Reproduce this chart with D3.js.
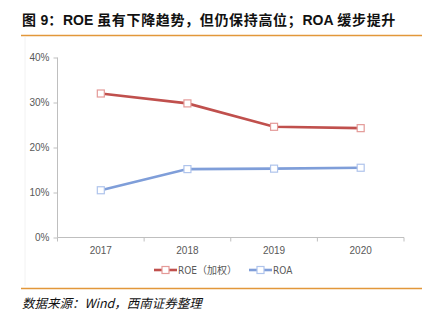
<!DOCTYPE html>
<html><head><meta charset="utf-8">
<script src="https://cdn.jsdelivr.net/npm/d3@7"></script>
<style>
html,body{margin:0;padding:0;background:#fff;}
svg{display:block;}
</style></head>
<body>
<svg id="c" width="433" height="327"></svg>
<script>
const years = ["2017","2018","2019","2020"];
const roe = [0.320, 0.298, 0.246, 0.243];
const roa = [0.105, 0.152, 0.153, 0.155];
const yTicks = [0, 0.1, 0.2, 0.3, 0.4];
const seriesNames = ["ROE（加权）","ROA"];
const titleParts = [["图 ",1],["9",0],["：",1],["ROE",0],[" 虽有下降趋势，但仍保持高位；",1],["ROA",0],[" 缓步提升",1]];
const colors = ["#C0504D","#7F9ED9"];
const markerStroke = ["#E49A98","#AFC4EC"];

const svg = d3.select("#c");
const fontLat = "'Liberation Sans', Arial, sans-serif";
const fontCJK = "'Noto Sans CJK SC', sans-serif";

// title
const title = svg.append("text").attr("x",22).attr("y",25)
  .attr("font-weight","bold").attr("font-size",14).attr("fill","#111");
const tsp = title.selectAll("tspan").data(titleParts).enter().append("tspan")
  .attr("font-family",d=>d[1]?fontCJK:"'Liberation Sans', sans-serif")
  .text(d=>d[0]);
// spread CJK glyphs so the title spans the same width as the reference
const w0 = title.node().getComputedTextLength();
const nCJK = titleParts.filter(d=>d[1]).reduce((a,d)=>a+d[0].length,0);
const ls = Math.max(0,(374 - w0)/nCJK);
tsp.attr("letter-spacing",d=>d[1]?ls:0);

svg.append("line").attr("x1",21).attr("x2",422).attr("y1",35.5).attr("y2",35.5)
  .attr("stroke","#E2973A").attr("stroke-width",1.3);

// faint chart border
svg.append("line").attr("x1",25).attr("x2",25).attr("y1",37).attr("y2",286)
  .attr("stroke","#f2f2f2").attr("stroke-width",1);

const x = d3.scaleBand().domain(years).range([57.5,404]);
const y = d3.scaleLinear().domain([0,0.4]).range([237.5,57.5]);

// y axis
const yAxis = d3.axisLeft(y).tickValues(yTicks).tickFormat(d3.format(".0%")).tickSize(4).tickPadding(4);
const gy = svg.append("g").attr("transform","translate(57.5,0)").call(yAxis);
gy.select(".domain").attr("stroke","#bfbfbf").attr("d","M0,57.5V237.5");
gy.selectAll(".tick line").attr("stroke","#bfbfbf");
gy.selectAll("text").attr("font-family",fontLat).attr("font-size",10).attr("fill","#595959");

// x axis
const xAxis = d3.axisBottom(x).tickSize(0).tickPadding(9);
const gx = svg.append("g").attr("transform","translate(0,237.5)").call(xAxis);
gx.select(".domain").attr("stroke","#bfbfbf").attr("d","M57.5,0H404");
gx.selectAll("text").attr("font-family",fontLat).attr("font-size",10).attr("fill","#595959");
// boundary ticks
const bounds = years.map(d=>x(d)).concat([x.range()[1]]);
gx.selectAll(".bt").data(bounds).enter().append("line")
  .attr("x1",d=>d).attr("x2",d=>d).attr("y1",0).attr("y2",4).attr("stroke","#bfbfbf");

const cx = d => x(d) + x.bandwidth()/2;
const line = d3.line().x((d,i)=>cx(years[i])).y(d=>y(d));

[roe, roa].forEach((s,k)=>{
  svg.append("path").datum(s).attr("d",line).attr("fill","none")
    .attr("stroke",colors[k]).attr("stroke-width",2.6);
  svg.selectAll(".m"+k).data(s).enter().append("rect")
    .attr("x",(d,i)=>cx(years[i])-3.5).attr("y",d=>y(d)-3.5)
    .attr("width",7).attr("height",7).attr("fill","#fff")
    .attr("stroke",markerStroke[k]).attr("stroke-width",1.2);
});

// legend
const leg = [{x:154, tx:178},{x:249, tx:273}];
leg.forEach((l,k)=>{
  const g = svg.append("g");
  g.append("line").attr("x1",l.x).attr("x2",l.x+23).attr("y1",270).attr("y2",270)
    .attr("stroke",colors[k]).attr("stroke-width",2.6);
  g.append("rect").attr("x",l.x+8).attr("y",266.5).attr("width",7).attr("height",7)
    .attr("fill","#fff").attr("stroke",markerStroke[k]).attr("stroke-width",1.2);
  g.append("text").attr("x",l.tx).attr("y",273.5)
    .attr("font-family","'DejaVu Sans Condensed', "+fontCJK).attr("font-size",10)
    .attr("fill","#595959").text(seriesNames[k]);
});

// bottom line and source
svg.append("line").attr("x1",21).attr("x2",422).attr("y1",288.5).attr("y2",288.5)
  .attr("stroke","#E2973A").attr("stroke-width",1.3);
svg.append("text").attr("x",22).attr("y",308)
  .attr("font-family",fontCJK).attr("font-style","italic").attr("font-size",12.5)
  .attr("fill","#111").text("数据来源：Wind，西南证券整理");
</script>
</body></html>
